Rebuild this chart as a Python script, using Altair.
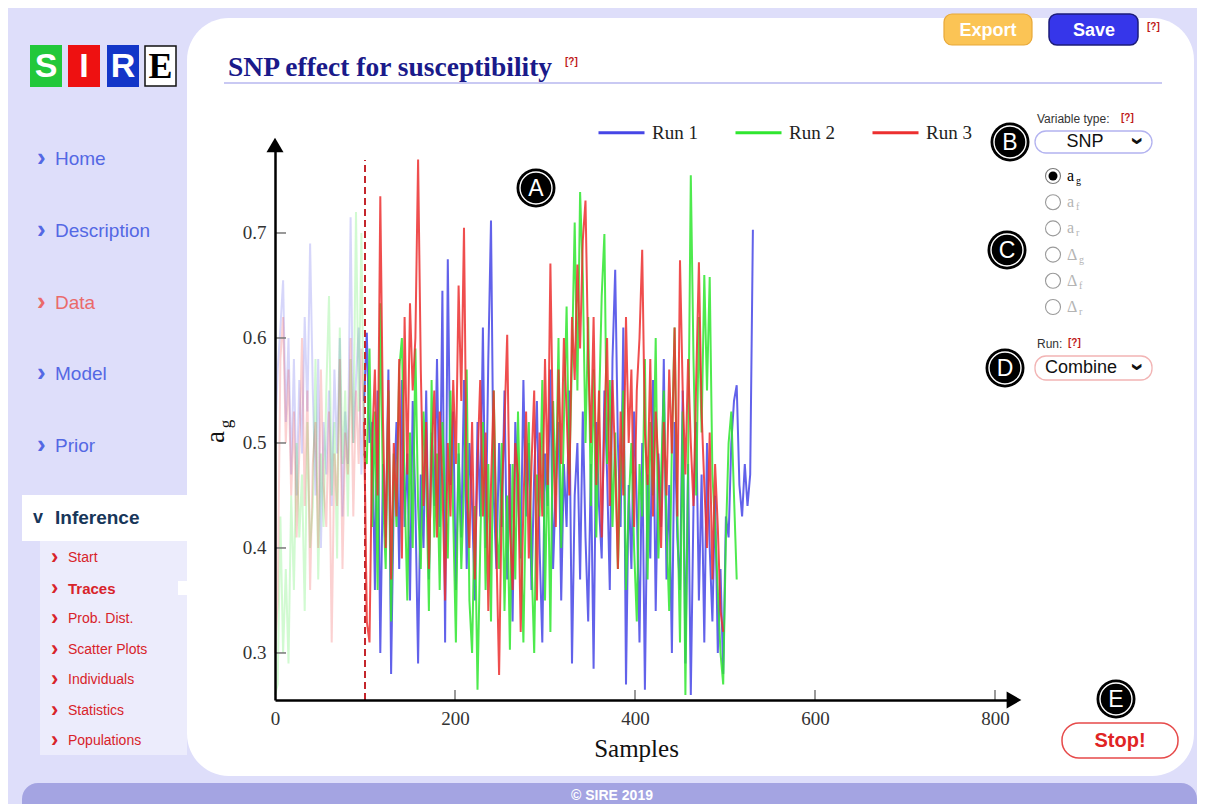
import altair as alt
import pandas as pd

# ---------------- data ----------------
run_names = ["Run 1", "Run 2", "Run 3"]
run_colors = ["#4646e6", "#2fe62f", "#ec2f2f"]
sample_step = 3
burn_in = 100
x_ticks = [0, 200, 400, 600, 800]
y_ticks = [0.3, 0.4, 0.5, 0.6, 0.7]

run1 = [0.50, 0.57, 0.61, 0.655, 0.52, 0.60, 0.47, 0.58, 0.45, 0.56,
        0.49, 0.62, 0.53, 0.69, 0.55, 0.45, 0.58, 0.40, 0.52, 0.47,
        0.55, 0.44, 0.57, 0.49, 0.60, 0.43, 0.53, 0.48, 0.715, 0.50,
        0.56, 0.61, 0.47, 0.54,
        0.605, 0.50, 0.52, 0.36, 0.55, 0.30, 0.48, 0.41, 0.57, 0.28,
        0.45, 0.52, 0.38, 0.56, 0.42, 0.49, 0.35, 0.54, 0.44, 0.29,
        0.47, 0.40, 0.55, 0.37, 0.51, 0.44, 0.58, 0.42, 0.645, 0.31,
        0.675, 0.46, 0.53, 0.36, 0.49, 0.41, 0.56, 0.38, 0.50, 0.44,
        0.35, 0.52, 0.43, 0.61, 0.40, 0.58, 0.712, 0.45, 0.38, 0.50,
        0.42, 0.55, 0.37, 0.48, 0.33, 0.52, 0.45, 0.39, 0.56, 0.43,
        0.50, 0.36, 0.47, 0.54, 0.40, 0.31, 0.49, 0.44, 0.57, 0.38,
        0.46, 0.52, 0.35, 0.48, 0.42, 0.55, 0.29, 0.45, 0.50, 0.37,
        0.53, 0.41, 0.33, 0.48, 0.285, 0.52, 0.44, 0.39, 0.55, 0.47,
        0.36, 0.58, 0.665, 0.50, 0.42, 0.61, 0.27, 0.46, 0.38, 0.53,
        0.44, 0.31, 0.50, 0.265, 0.47, 0.39, 0.56, 0.34, 0.49, 0.42,
        0.58, 0.37, 0.46, 0.30, 0.52, 0.41, 0.36, 0.55, 0.29, 0.48,
        0.26, 0.44, 0.52, 0.35, 0.47, 0.31, 0.50, 0.40, 0.33, 0.45,
        0.30, 0.38, 0.28, 0.43,
        0.41, 0.50, 0.54, 0.555, 0.46, 0.43, 0.48, 0.44, 0.47, 0.703]

run2 = [0.26, 0.27, 0.43, 0.30, 0.38, 0.29, 0.45, 0.36, 0.50, 0.41,
        0.47, 0.34, 0.52, 0.40, 0.44, 0.58, 0.37, 0.49, 0.42, 0.55,
        0.64, 0.45, 0.52, 0.39, 0.61, 0.48, 0.55, 0.43, 0.58, 0.50,
        0.72, 0.53, 0.70, 0.49,
        0.48, 0.59, 0.42, 0.53, 0.36, 0.633, 0.45, 0.38, 0.55, 0.33,
        0.49, 0.42, 0.57, 0.60, 0.46, 0.35, 0.51, 0.40, 0.59, 0.44,
        0.38, 0.53, 0.47, 0.34, 0.56, 0.41, 0.49, 0.36, 0.52, 0.45,
        0.39, 0.55, 0.43, 0.31, 0.50, 0.38, 0.46, 0.57, 0.35, 0.30,
        0.44, 0.265, 0.40, 0.52, 0.36, 0.48, 0.33, 0.55, 0.42, 0.38,
        0.50, 0.34, 0.45, 0.303, 0.48, 0.37, 0.53, 0.41, 0.31, 0.46,
        0.52, 0.39, 0.30, 0.47, 0.43, 0.56, 0.35, 0.49, 0.32, 0.54,
        0.45, 0.60, 0.40, 0.52, 0.63, 0.47, 0.58, 0.71, 0.55, 0.739,
        0.66, 0.50, 0.62, 0.44, 0.57, 0.41, 0.53, 0.64, 0.699, 0.48,
        0.56, 0.42, 0.51, 0.38, 0.47, 0.55, 0.36, 0.44, 0.50, 0.40,
        0.33, 0.48, 0.43, 0.58, 0.37, 0.52, 0.45, 0.60, 0.39, 0.47,
        0.55, 0.42, 0.34, 0.50, 0.61, 0.44, 0.31, 0.53, 0.26, 0.48,
        0.755, 0.58, 0.45, 0.62, 0.51, 0.66, 0.55, 0.658, 0.47, 0.42,
        0.36, 0.30, 0.27, 0.41, 0.50, 0.53, 0.45, 0.37]

run3 = [0.30, 0.35, 0.58, 0.62, 0.50, 0.57, 0.45, 0.53, 0.41, 0.49,
        0.60, 0.44, 0.55, 0.36, 0.48, 0.52, 0.40, 0.57, 0.46, 0.42,
        0.53, 0.31, 0.49, 0.44, 0.58, 0.38, 0.51, 0.47, 0.60, 0.43,
        0.55, 0.48, 0.59, 0.52,
        0.33, 0.31, 0.50, 0.57, 0.45, 0.735, 0.52, 0.40, 0.56, 0.37,
        0.50, 0.43, 0.58, 0.39, 0.62, 0.47, 0.633, 0.55, 0.60, 0.77,
        0.57, 0.44, 0.52, 0.38, 0.49, 0.55, 0.41, 0.53, 0.46, 0.35,
        0.50, 0.43, 0.56, 0.48, 0.65, 0.54, 0.705, 0.45, 0.40, 0.52,
        0.37, 0.48, 0.56, 0.43, 0.51, 0.34, 0.46, 0.55, 0.40, 0.279,
        0.45, 0.52, 0.603, 0.42, 0.36, 0.50, 0.47, 0.32, 0.44, 0.53,
        0.39, 0.48, 0.55, 0.35, 0.51, 0.43, 0.58, 0.46, 0.671, 0.50,
        0.42, 0.57, 0.48, 0.60, 0.53, 0.45, 0.62, 0.56, 0.67, 0.59,
        0.693, 0.731, 0.58, 0.50, 0.62, 0.46, 0.55, 0.41, 0.52, 0.60,
        0.44, 0.56, 0.48, 0.38, 0.53, 0.45, 0.62, 0.50, 0.57, 0.42,
        0.55, 0.60, 0.684, 0.51, 0.46, 0.58, 0.43, 0.53, 0.48, 0.40,
        0.52, 0.45, 0.57, 0.49, 0.61, 0.43, 0.674, 0.55, 0.47, 0.58,
        0.50, 0.44, 0.56, 0.672, 0.53, 0.46, 0.40, 0.51, 0.37, 0.48,
        0.42, 0.34, 0.32]

menu_main = ["Home", "Description", "Data", "Model", "Prior"]
menu_main_colors = ["#5468e4", "#5468e4", "#ea6a6a", "#5468e4", "#5468e4"]
menu_sub = ["Start", "Traces", "Prob. Dist.", "Scatter Plots", "Individuals", "Statistics", "Populations"]
radio_items = [("a", "g"), ("a", "f"), ("a", "r"), ("\u0394", "g"), ("\u0394", "f"), ("\u0394", "r")]

# ---------------- layout ----------------
OX, OY = 275, 149          # page position of the plot's top-left corner
W, H = 738, 551
Y_MIN, Y_MAX = 0.2552, 0.78

rows = []
for name, vals in zip(run_names, [run1, run2, run3]):
    for i, v in enumerate(vals):
        s = i * sample_step
        if s <= burn_in + 2:
            rows.append({"sample": s, "value": v, "run": name, "phase": "burn"})
        if s >= burn_in - 1:
            rows.append({"sample": s, "value": v, "run": name, "phase": "main"})
df = pd.DataFrame(rows)

one = pd.DataFrame({"k": [0]})
SERIF = "Liberation Serif"
SANS = "Liberation Sans"

xscale = alt.Scale(domain=[0, 820], nice=False, zero=False)
yscale = alt.Scale(domain=[Y_MIN, Y_MAX], nice=False, zero=False)
xaxis = alt.Axis(values=x_ticks, format="d", labelFont=SERIF, labelFontSize=19, labelColor="#333",
                 labelPadding=9, ticks=False, tickSize=0, domainColor="#000", domainWidth=2.5,
                 grid=False, titleFont=SERIF, titleFontSize=25, titleFontWeight="normal",
                 titleColor="#111", titleX=361, titleY=48, titleBaseline="middle", zindex=1,
                 labelFlush=False, labelOverlap=False)
yaxis = alt.Axis(values=y_ticks, format=".1f", labelFont=SERIF, labelFontSize=19, labelColor="#333",
                 labelPadding=9, ticks=False, tickSize=0, domainColor="#000", domainWidth=2.5,
                 grid=False, zindex=1, labelFlush=False, labelOverlap=False)


def X(field):
    return alt.X(field, type="quantitative", scale=xscale, axis=xaxis, title="Samples")


def Y(field):
    return alt.Y(field, type="quantitative", scale=yscale, axis=yaxis, title="")


def px(x):
    return x - OX


def py(y):
    return y - OY


def txt(s, x, y, size, color="#000", font=SANS, weight="normal", align="left", angle=0):
    kw = dict(text=s, font=font, fontSize=size, fontWeight=weight, color=color,
              align=align, baseline="middle")
    if angle:
        kw["angle"] = angle
    return alt.Chart(one).mark_text(**kw).encode(x=alt.value(px(x)), y=alt.value(py(y)))


def box(x1, y1, x2, y2, fill, stroke="transparent", sw=0, r=0):
    return alt.Chart(one).mark_rect(fill=fill, stroke=stroke, strokeWidth=sw, cornerRadius=r,
                                    opacity=1).encode(
        x=alt.value(px(x1)), x2=alt.value(px(x2)), y=alt.value(py(y1)), y2=alt.value(py(y2)))


def dot(x, y, d, fill="#000", stroke="transparent", sw=0, shape="circle"):
    return alt.Chart(one).mark_point(shape=shape, size=d * d, filled=True, fill=fill, stroke=stroke,
                                     strokeWidth=sw, opacity=1).encode(
        x=alt.value(px(x)), y=alt.value(py(y)))


def ring(x, y, d, stroke, sw):
    return alt.Chart(one).mark_point(shape="circle", size=d * d, filled=False, stroke=stroke,
                                     strokeWidth=sw, opacity=1).encode(
        x=alt.value(px(x)), y=alt.value(py(y)))


def badge(letter, x, y):
    return [dot(x, y, 39), ring(x, y, 32, "#ffffff", 1.4),
            txt(letter, x, y + 1, 23, color="#fff", align="center")]


layers = []
# page chrome
layers.append(box(187, 18, 1194, 776, "#ffffff", r=42))
layers.append(box(22, 783, 1197, 830, "#a4a4e2", r=16))
layers.append(txt("\u00a9 SIRE 2019", 612, 796, 14, color="#fff", weight="bold", align="center"))

# logo
for (x1, x2, col, letter) in [(30, 62, "#22c83a", "S"), (68, 100, "#ee1111", "I"), (107, 139, "#1336c8", "R")]:
    layers.append(box(x1, 45, x2, 87, col))
    layers.append(txt(letter, (x1 + x2) / 2, 67, 34, color="#fff", weight="bold", align="center"))
layers.append(box(145, 46, 176, 86, "#ffffff", stroke="#111", sw=1.5))
layers.append(txt("E", 160.5, 67, 36, color="#000", font=SERIF, weight="bold", align="center"))

# side menu
for k, (name, col) in enumerate(zip(menu_main, menu_main_colors)):
    yy = 159 + k * 71.8
    layers.append(txt("\u203a", 37, yy - 1, 26, color=col, weight="bold"))
    layers.append(txt(name, 55, yy, 19, color=col))
layers.append(box(22, 495, 187, 541, "#ffffff"))
layers.append(txt("v", 33, 518, 18, color="#173659", weight="bold"))
layers.append(txt("Inference", 55, 518, 19, color="#173659", weight="bold"))
layers.append(box(40, 541, 187, 755, "#ececfc"))
layers.append(box(178, 581, 188, 595, "#ffffff"))
for k, name in enumerate(menu_sub):
    yy = 558 + k * 30.5
    w = "bold" if name == "Traces" else "normal"
    layers.append(txt("\u203a", 51, yy - 1, 22, color="#d8232a", weight="bold"))
    layers.append(txt(name, 68, yy, 15 if name == "Traces" else 14, color="#d8232a", weight=w))

# title
layers.append(txt("SNP effect for susceptibility", 228, 68, 27.5, color="#1a1a8a", font=SERIF, weight="bold"))
layers.append(txt("[?]", 565, 62, 10, color="#c01818", weight="bold"))
layers.append(alt.Chart(one).mark_rule(color="#c9c9f3", strokeWidth=2).encode(
    x=alt.value(px(224)), x2=alt.value(px(1162)), y=alt.value(py(83))))

# buttons
layers.append(box(944, 14, 1032, 45, "#fbc455", stroke="#e8a838", sw=1.2, r=8))
layers.append(txt("Export", 988, 31, 18, color="#fff", weight="bold", align="center"))
layers.append(box(1049, 14, 1138, 45, "#3636ea", stroke="#1c1c7a", sw=1.5, r=8))
layers.append(txt("Save", 1094, 31, 18, color="#fff", weight="bold", align="center"))
layers.append(txt("[?]", 1147, 27, 10, color="#c01818", weight="bold"))

# right controls
layers.append(txt("Variable type:", 1037, 119, 12, color="#333"))
layers.append(txt("[?]", 1121, 118, 10, color="#c01818", weight="bold"))
layers.append(box(1035, 131, 1152, 153, "#ffffff", stroke="#b3b3f0", sw=1.3, r=11))
layers.append(txt("SNP", 1085, 142, 18, color="#111", align="center"))
layers.append(txt("\u203a", 1137, 141, 24, color="#111", weight="bold", align="center", angle=90))
for k, (base, sub) in enumerate(radio_items):
    yy = 176 + k * 26.2
    col = "#000" if k == 0 else "#b4b4b4"
    layers.append(ring(1053, yy, 15, "#7a7a7a" if k == 0 else "#9a9a9a", 1.1))
    if k == 0:
        layers.append(dot(1053, yy, 9))
    layers.append(txt(base, 1067, yy, 16, color=col, font=SERIF))
    layers.append(txt(sub, 1076 if base == "a" else 1079, yy + 5, 10, color=col, font=SERIF))
layers.append(txt("Run:", 1037, 344, 12, color="#333"))
layers.append(txt("[?]", 1068, 343, 10, color="#c01818", weight="bold"))
layers.append(box(1035, 356, 1152, 380, "#ffffff", stroke="#f2b4b4", sw=1.3, r=11))
layers.append(txt("Combine", 1045, 368, 18, color="#111"))
layers.append(txt("\u203a", 1137, 367, 24, color="#111", weight="bold", align="center", angle=90))
layers.append(box(1062, 723, 1178, 758, "#ffffff", stroke="#e64a4a", sw=1.5, r=17))
layers.append(txt("Stop!", 1120, 741, 20, color="#e02424", weight="bold", align="center"))

# plot: traces
color_enc = alt.Color("run:N", scale=alt.Scale(domain=run_names, range=run_colors),
                      legend=alt.Legend(title=None, orient="none", legendX=322, legendY=-41,
                                        direction="horizontal", symbolType="stroke", symbolSize=2116,
                                        symbolStrokeWidth=3, symbolOpacity=1, labelFont=SERIF,
                                        labelFontSize=19, labelColor="#222", labelOffset=6,
                                        columnPadding=31))
opacity_enc = alt.Opacity("phase:N", scale=alt.Scale(domain=["burn", "main"], range=[0.22, 0.85]),
                          legend=None)
for name in run_names:
    layers.append(alt.Chart(df).transform_filter(alt.datum.run == name).mark_line(strokeWidth=2).encode(
        x=X("sample"), y=Y("value"), color=color_enc, detail="phase:N", opacity=opacity_enc))

# burn-in marker
layers.append(alt.Chart(pd.DataFrame({"t": [burn_in]})).mark_rule(
    color="#c4262c", strokeWidth=2, strokeDash=[7, 4]).encode(
    x=X("t"), y=alt.value(H), y2=alt.value(py(160))))

# inward ticks
layers.append(alt.Chart(pd.DataFrame({"t": x_ticks[1:]})).mark_rule(color="#777", strokeWidth=1.5).encode(
    x=X("t"), y=alt.value(H), y2=alt.value(H - 10)))
layers.append(alt.Chart(pd.DataFrame({"t": y_ticks})).mark_rule(color="#777", strokeWidth=1.5).encode(
    y=Y("t"), x=alt.value(0), x2=alt.value(11)))

# arrow heads
layers.append(dot(OX, OY - 4, 17, shape="triangle-up"))
layers.append(dot(OX + W + 1, OY + H, 17, shape="triangle-right"))

# y title a_g
layers.append(txt("a", 216, 437, 27, color="#111", font=SERIF, align="center", angle=270))
layers.append(txt("g", 226, 424, 17, color="#111", font=SERIF, align="center", angle=270))

# badges
for letter, bx, by in [("A", 536, 188), ("B", 1010, 142), ("C", 1007, 250), ("D", 1005, 368), ("E", 1116, 699)]:
    layers.extend(badge(letter, bx, by))

chart = alt.layer(*layers).properties(
    width=W, height=H,
    padding={"left": OX - 8, "top": OY - 8, "right": 1197 - (OX + W), "bottom": 804 - (OY + H)},
    autosize=alt.AutoSizeParams(type="none"),
    background="#dedefa",
).configure_view(strokeWidth=0).configure(font=SANS)

chart.save("out.html", embed_options={"renderer": "svg", "actions": False})
